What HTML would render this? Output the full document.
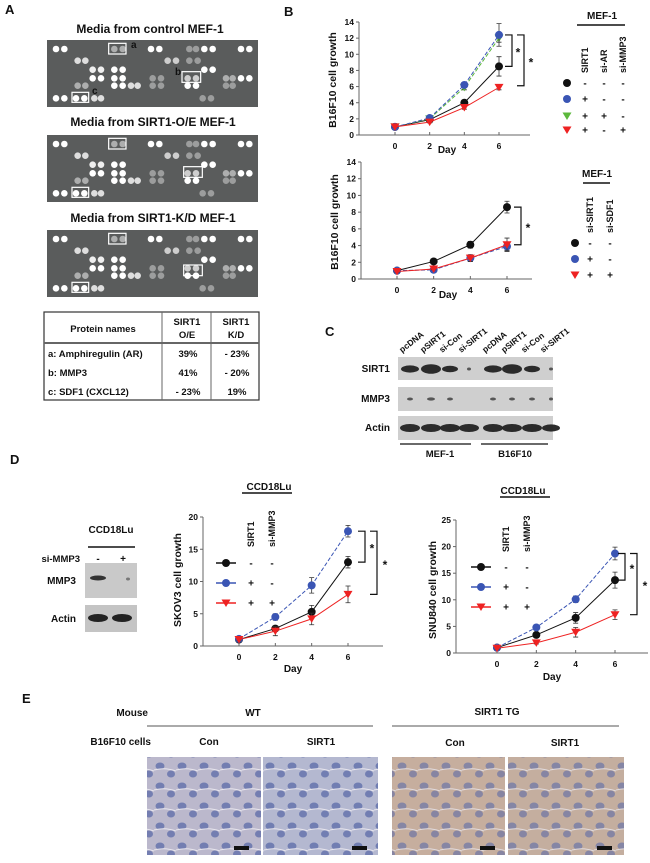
<!DOCTYPE html>
<html><head><meta charset="utf-8"><style>
html,body{margin:0;padding:0;background:#fff}
svg{display:block}
text{font-family:"Liberation Sans",sans-serif;font-weight:bold;fill:#111}
</style></head><body>
<svg id="fig" width="650" height="863" viewBox="0 0 650 863" xmlns="http://www.w3.org/2000/svg">
<defs>
<pattern id="cells" width="22" height="20" patternUnits="userSpaceOnUse">
<ellipse cx="6" cy="6" rx="4.5" ry="3.5" fill="#5a6aa8" opacity="0.75"/>
<ellipse cx="17" cy="14" rx="4" ry="3.5" fill="#5566a5" opacity="0.7"/>
<path d="M0 10 Q11 7 22 11" stroke="#e8e6ee" stroke-width="1" fill="none"/>
</pattern>
</defs>
<!-- Panel A -->
<text x="5" y="14" font-size="13">A</text>
<text x="150" y="33" font-size="12" text-anchor="middle">Media from control MEF-1</text>
<text x="153" y="126" font-size="12" text-anchor="middle">Media from SIRT1-O/E MEF-1</text>
<text x="153" y="222" font-size="12" text-anchor="middle">Media from SIRT1-K/D MEF-1</text>
<g id="blots"></g>
<g>
<rect x="44" y="312" width="215" height="88" fill="#fff" stroke="#333" stroke-width="1.2"/>
<line x1="44" y1="343" x2="259" y2="343" stroke="#666" stroke-width="2"/>
<line x1="162" y1="312" x2="162" y2="400" stroke="#666"/>
<line x1="211" y1="312" x2="211" y2="400" stroke="#666"/>
<text x="103" y="332" font-size="9.5" text-anchor="middle">Protein names</text>
<text x="187" y="325" font-size="9.5" text-anchor="middle">SIRT1</text>
<text x="187" y="338" font-size="9.5" text-anchor="middle">O/E</text>
<text x="236" y="325" font-size="9.5" text-anchor="middle">SIRT1</text>
<text x="236" y="338" font-size="9.5" text-anchor="middle">K/D</text>
<text x="48" y="357" font-size="9.5">a: Amphiregulin (AR)</text>
<text x="48" y="376" font-size="9.5">b: MMP3</text>
<text x="48" y="395" font-size="9.5">c: SDF1 (CXCL12)</text>
<text x="188" y="357" font-size="9.5" text-anchor="middle">39%</text>
<text x="188" y="376" font-size="9.5" text-anchor="middle">41%</text>
<text x="188" y="395" font-size="9.5" text-anchor="middle">- 23%</text>
<text x="237" y="357" font-size="9.5" text-anchor="middle">- 23%</text>
<text x="237" y="376" font-size="9.5" text-anchor="middle">- 20%</text>
<text x="237" y="395" font-size="9.5" text-anchor="middle">19%</text>
</g>
<!-- Panel B -->
<text x="284" y="16" font-size="13">B</text>
<g id="chartB1"></g><g id="chartB2"></g>
<!-- Panel C -->
<text x="325" y="336" font-size="13">C</text>
<g id="blotC"></g>
<!-- Panel D -->
<text x="10" y="464" font-size="13">D</text>
<g>
<text x="111" y="533" font-size="10" text-anchor="middle">CCD18Lu</text>
<line x1="88" y1="547" x2="135" y2="547" stroke="#111" stroke-width="1.5"/>
<text x="80" y="562" font-size="9.5" text-anchor="end">si-MMP3</text>
<text x="98" y="562" font-size="10" text-anchor="middle">-</text>
<text x="123" y="562" font-size="10" text-anchor="middle">+</text>
<text x="76" y="584" font-size="10" text-anchor="end">MMP3</text>
<text x="76" y="622" font-size="10" text-anchor="end">Actin</text>
<rect x="85" y="563" width="52" height="35" fill="#c9c9c9"/>
<ellipse cx="98" cy="578" rx="8" ry="2.5" fill="#333"/>
<ellipse cx="128" cy="579" rx="2" ry="1.5" fill="#777"/>
<rect x="85" y="605" width="52" height="27" fill="#c4c4c4"/>
<ellipse cx="98" cy="618" rx="10" ry="4" fill="#222"/>
<ellipse cx="122" cy="618" rx="10" ry="4" fill="#222"/>
</g>
<g id="chartD1"></g><g id="chartD2"></g>
<!-- Panel E -->
<text x="22" y="703" font-size="13">E</text>
<g>
<text x="148" y="716" font-size="10" text-anchor="end">Mouse</text>
<text x="253" y="716" font-size="10" text-anchor="middle">WT</text>
<text x="497" y="715" font-size="10" text-anchor="middle">SIRT1 TG</text>
<line x1="147" y1="726" x2="373" y2="726" stroke="#555"/>
<line x1="392" y1="726" x2="619" y2="726" stroke="#555"/>
<text x="151" y="745" font-size="10" text-anchor="end">B16F10 cells</text>
<text x="209" y="745" font-size="10" text-anchor="middle">Con</text>
<text x="321" y="745" font-size="10" text-anchor="middle">SIRT1</text>
<text x="455" y="746" font-size="10" text-anchor="middle">Con</text>
<text x="565" y="746" font-size="10" text-anchor="middle">SIRT1</text>
<rect x="147" y="757" width="114" height="98" fill="#bbb8cc"/><rect x="147" y="757" width="114" height="98" fill="url(#cells)"/>
<rect x="263" y="757" width="115" height="98" fill="#b4b8d0"/><rect x="263" y="757" width="115" height="98" fill="url(#cells)"/>
<rect x="392" y="757" width="113" height="98" fill="#c6ae9e"/><rect x="392" y="757" width="113" height="98" fill="url(#cells)" opacity="0.8"/>
<rect x="508" y="757" width="116" height="98" fill="#c4ae9f"/><rect x="508" y="757" width="116" height="98" fill="url(#cells)" opacity="0.8"/>
<rect x="234" y="846" width="15" height="4" fill="#111"/>
<rect x="352" y="846" width="15" height="4" fill="#111"/>
<rect x="480" y="846" width="15" height="4" fill="#111"/>
<rect x="597" y="846" width="15" height="4" fill="#111"/>
</g>
</svg>
<script>
// ---- Chart data ----
const days = [0, 2, 4, 6];
const b1Black = [1, 1.9, 4, 8.5];
const b1Blue = [1, 2.1, 6.2, 12.4];
const b1Green = [1, 2, 5.9, 12];
const b1Red = [1, 1.6, 3.4, 5.9];
const b1BlackErr = [0.1, 0.2, 0.3, 1.2];
const b1BlueErr = [0.1, 0.2, 0.3, 1.4];
const b1GreenErr = [0.1, 0.2, 0.3, 0.5];
const b1RedErr = [0.1, 0.1, 0.2, 0.3];
const b2Black = [1, 2.1, 4.1, 8.6];
const b2Blue = [1, 1.1, 2.5, 3.9];
const b2Red = [0.9, 1.2, 2.5, 4.1];
const b2BlackErr = [0.1, 0.2, 0.4, 0.7];
const b2BlueErr = [0.1, 0.1, 0.4, 0.5];
const b2RedErr = [0.1, 0.1, 0.4, 0.8];
const d1Black = [1, 2.7, 5.3, 13];
const d1Blue = [1.1, 4.5, 9.4, 17.8];
const d1Red = [1, 2.3, 4.2, 8];
const d1BlackErr = [0.2, 0.4, 1, 0.9];
const d1BlueErr = [0.2, 0.5, 1.2, 0.9];
const d1RedErr = [0.2, 0.7, 0.9, 1.3];
const d2Black = [1, 3.4, 6.6, 13.7];
const d2Blue = [1, 4.8, 10.1, 18.7];
const d2Red = [0.9, 1.9, 3.9, 7.2];
const d2BlackErr = [0.2, 0.4, 1, 1.5];
const d2BlueErr = [0.2, 0.3, 0.6, 1.2];
const d2RedErr = [0.2, 0.2, 0.9, 0.9];
const ticks14 = [0, 2, 4, 6, 8, 10, 12, 14];
const ticks20 = [0, 5, 10, 15, 20];
const ticks25 = [0, 5, 10, 15, 20, 25];

const NS = 'http://www.w3.org/2000/svg';
const COL = {black:'#111', blue:'#3a55b4', green:'#5cb83c', red:'#ee2222'};
function mk(tag, parent, attrs){const e=document.createElementNS(NS,tag);for(const k in attrs)e.setAttribute(k,attrs[k]);parent.appendChild(e);return e;}
function txt(parent, x, y, s, size, anchor, rot){const t=mk('text',parent,{x:x,y:y,'font-size':size,'text-anchor':anchor||'start'});if(rot)t.setAttribute('transform','rotate('+rot+' '+x+' '+y+')');t.textContent=s;return t;}
function marker(g, x, y, kind, color){
  let m;
  if(kind==='tri'){m=mk('path',g,{d:'M'+(x-4.5)+' '+(y-3.5)+' L'+(x+4.5)+' '+(y-3.5)+' L'+x+' '+(y+4)+' Z',fill:color});}
  else{m=mk('circle',g,{cx:x,cy:y,r:4,fill:color});}
  return m;
}
function chart(id, cfg){
  const g=document.getElementById(id);
  
  
  const xs=d=>cfg.x0+d*(cfg.x6-cfg.x0)/6;
  const ys=v=>cfg.y0-v*(cfg.y0-cfg.yTop)/cfg.yMax;
  const ax=mk('path',g,{d:'M'+cfg.ax+' '+cfg.yTop+' L'+cfg.ax+' '+cfg.y0+' L'+cfg.xEnd+' '+cfg.y0,stroke:'#666',fill:'none','stroke-width':1});
  
  
  cfg.ticks.forEach(t=>{
    mk('line',g,{x1:cfg.ax-3,y1:ys(t),x2:cfg.ax,y2:ys(t),stroke:'#666'});
    const l=txt(g,cfg.ax-5,ys(t)+3,String(t),8.5,'end');
    
    
  });
  days.forEach(d=>{
    mk('line',g,{x1:xs(d),y1:cfg.y0,x2:xs(d),y2:cfg.y0-3,stroke:'#666'});
    const l=txt(g,xs(d),cfg.y0+14,String(d),8.5,'middle');
    
    
  });
  const dl=txt(g,cfg.dayX,cfg.dayY,'Day',10,'middle');
  
  
  const yl=txt(g,cfg.ytX,cfg.ytY,cfg.ytitle,10.5,'middle',-90);
  
  
  cfg.series.forEach(s=>{
    const sg=mk('g',g,{});
    
    
    const pts=s.vals.map((v,i)=>xs(days[i])+','+ys(v)).join(' ');
    const pl=mk('polyline',sg,{points:pts,fill:'none',stroke:COL[s.color],'stroke-width':1,'stroke-dasharray':s.dash?'4,2':'none'});
    s.vals.forEach((v,i)=>{
      const x=xs(days[i]),e=s.err[i];
      mk('path',sg,{d:'M'+x+' '+ys(v-e)+' L'+x+' '+ys(v+e)+' M'+(x-2.5)+' '+ys(v+e)+' L'+(x+2.5)+' '+ys(v+e)+' M'+(x-2.5)+' '+ys(v-e)+' L'+(x+2.5)+' '+ys(v-e),stroke:'#333','stroke-width':0.8,fill:'none'});
      const m=marker(sg,x,ys(v),s.tri?'tri':'circ',COL[s.color]);
      
      
    });
  });
  cfg.brackets.forEach(b=>{
    const yA=ys(b.a), yB=ys(b.b);
    const br=mk('path',g,{d:'M'+(b.x-7)+' '+yA+' L'+b.x+' '+yA+' L'+b.x+' '+yB+' L'+(b.x-7)+' '+yB,stroke:'#111',fill:'none','stroke-width':1.2});
    
    
    const st=txt(g,b.sx,(yA+yB)/2+6,'*',12,'middle');
    
    
  });
  // legend
  const lg=mk('g',g,{});
  
  
  if(cfg.leg.title){
    txt(lg,cfg.leg.tx,cfg.leg.ty,cfg.leg.title,10,'middle');
    mk('line',lg,{x1:cfg.leg.l1,y1:cfg.leg.ly,x2:cfg.leg.l2,y2:cfg.leg.ly,stroke:'#111','stroke-width':1.5});
  }
  cfg.leg.cols.forEach((c,i)=>{txt(lg,cfg.leg.cx[i]+3,cfg.leg.cy,c,9,'start',-90);});
  cfg.leg.rows.forEach((r,j)=>{
    const y=cfg.leg.ry[j];
    if(cfg.leg.line) mk('line',lg,{x1:cfg.leg.mx-10,y1:y,x2:cfg.leg.mx+10,y2:y,stroke:COL[r.color],'stroke-width':1.5});
    const m=marker(lg,cfg.leg.mx,y,r.tri?'tri':'circ',COL[r.color]);
    
    
    r.signs.forEach((s,i)=>txt(lg,cfg.leg.cx[i],y+3.5,s,10,'middle'));
  });
}
chart('chartB1',{name:'chart-b16f10-mef-top',ax:359,x0:395,x6:499,y0:135,yTop:22,yMax:14,xEnd:530,ticks:ticks14,
  dayX:447,dayY:153,ytX:336,ytY:80,ytitle:'B16F10 cell growth',
  series:[{key:'black',vals:b1Black,err:b1BlackErr,color:'black'},{key:'green',vals:b1Green,err:b1GreenErr,color:'green',dash:1,tri:1},
    {key:'blue',vals:b1Blue,err:b1BlueErr,color:'blue',dash:1},{key:'red',vals:b1Red,err:b1RedErr,color:'red',tri:1}],
  brackets:[{x:512,a:12.4,b:8.5,sx:518},{x:524,a:12.4,b:6.1,sx:531}],
  leg:{title:'MEF-1',tx:602,ty:19,l1:577,l2:625,ly:25,cols:['SIRT1','si-AR','si-MMP3'],cx:[585,604,623],cy:73,mx:567,line:0,ry:[83,99,116,130],
    rows:[{color:'black',signs:['-','-','-']},{color:'blue',signs:['+','-','-']},{color:'green',tri:1,signs:['+','+','-']},{color:'red',tri:1,signs:['+','-','+']}]}});
chart('chartB2',{name:'chart-b16f10-mef-bottom',ax:361,x0:397,x6:507,y0:279,yTop:162,yMax:14,xEnd:532,ticks:ticks14,
  dayX:448,dayY:298,ytX:338,ytY:222,ytitle:'B16F10 cell growth',
  series:[{key:'black',vals:b2Black,err:b2BlackErr,color:'black'},{key:'blue',vals:b2Blue,err:b2BlueErr,color:'blue',dash:1},{key:'red',vals:b2Red,err:b2RedErr,color:'red',tri:1}],
  brackets:[{x:521,a:8.6,b:4.1,sx:528}],
  leg:{title:'MEF-1',tx:597,ty:177,l1:583,l2:610,ly:183,cols:['si-SIRT1','si-SDF1'],cx:[590,610],cy:233,mx:575,line:0,ry:[243,259,275],
    rows:[{color:'black',signs:['-','-']},{color:'blue',signs:['+','-']},{color:'red',tri:1,signs:['+','+']}]}});
chart('chartD1',{name:'chart-skov3-growth',ax:203,x0:239,x6:348,y0:646,yTop:517,yMax:20,xEnd:383,ticks:ticks20,
  dayX:293,dayY:672,ytX:181,ytY:580,ytitle:'SKOV3 cell growth',
  series:[{key:'black',vals:d1Black,err:d1BlackErr,color:'black'},{key:'blue',vals:d1Blue,err:d1BlueErr,color:'blue',dash:1},{key:'red',vals:d1Red,err:d1RedErr,color:'red',tri:1}],
  brackets:[{x:365,a:17.8,b:13,sx:372},{x:377,a:17.8,b:8,sx:385}],
  leg:{title:'CCD18Lu',tx:269,ty:490,l1:242,l2:292,ly:493,cols:['SIRT1','si-MMP3'],cx:[251,272],cy:547,mx:226,line:1,ry:[563,583,603],
    rows:[{color:'black',signs:['-','-']},{color:'blue',signs:['+','-']},{color:'red',tri:1,signs:['+','+']}]}});
chart('chartD2',{name:'chart-snu840-growth',ax:456,x0:497,x6:615,y0:653,yTop:520,yMax:25,xEnd:648,ticks:ticks25,
  dayX:552,dayY:680,ytX:436,ytY:590,ytitle:'SNU840 cell growth',
  series:[{key:'black',vals:d2Black,err:d2BlackErr,color:'black'},{key:'blue',vals:d2Blue,err:d2BlueErr,color:'blue',dash:1},{key:'red',vals:d2Red,err:d2RedErr,color:'red',tri:1}],
  brackets:[{x:625,a:18.7,b:13.7,sx:632},{x:637,a:18.7,b:7.2,sx:645}],
  leg:{title:'CCD18Lu',tx:523,ty:494,l1:500,l2:550,ly:497,cols:['SIRT1','si-MMP3'],cx:[506,527],cy:552,mx:481,line:1,ry:[567,587,607],
    rows:[{color:'black',signs:['-','-']},{color:'blue',signs:['+','-']},{color:'red',tri:1,signs:['+','+']}]}});

// ---- Panel A dot blots (decorative) ----
const dotSpots=[[170,145,1],[195,145,1],[345,145,.5],[370,145,.5],[455,145,1],[480,145,1],[570,145,.4],[590,145,.4],[615,145,1],[640,145,1],[725,145,1],[750,145,1],
[235,180,.8],[258,180,.8],[505,180,.7],[530,180,.7],[570,180,.4],[595,180,.4],
[280,207,.9],[305,207,.9],[345,207,1],[370,207,1],[615,207,1],[640,207,1],
[280,233,1],[305,233,1],[345,233,1],[370,233,1],[460,233,.4],[485,233,.4],[565,233,.7],[590,233,.7],[680,233,.5],[700,233,.5],[725,233,1],[750,233,1],
[235,255,.5],[258,255,.5],[345,255,1],[370,255,1],[395,255,.8],[415,255,.8],[460,255,.4],[485,255,.4],[565,255,1],[590,255,1],[680,255,.4],[700,255,.4],
[170,293,1],[195,293,1],[230,293,1],[255,293,1],[285,293,.8],[305,293,.8],[610,293,.4],[635,293,.4]];
const blotG=document.getElementById('blots');
[40,135,230].forEach((top,bi)=>{
  const g=mk('g',blotG,{});
  
  
  mk('rect',g,{x:47,y:top,width:211,height:67,fill:'#5a5c5c'});
  dotSpots.forEach(d=>{mk('circle',g,{cx:47+(d[0]-143)/3,cy:top+(d[1]-118)/3,r:3.3,fill:'#fff',opacity:d[2]});});
  const bx=[[328,128,52,32],[548+(bi?5:0),213+(bi==2?10:0),56,32],[218,275,50,30]];
  bx.forEach(b=>mk('rect',g,{x:47+(b[0]-143)/3,y:top+(b[1]-118)/3,width:b[2]/3,height:b[3]/3,fill:'none',stroke:'#fff','stroke-width':1.2}));
  if(bi===0){
    txt(g,131,48,'a',10,'start').setAttribute('fill','#fff');
    txt(g,175,75,'b',10,'start').setAttribute('fill','#fff');
    txt(g,92,94,'c',10,'start').setAttribute('fill','#fff');
  }
});
// ---- Panel C western blot (decorative) ----
const cG=document.getElementById('blotC');
const lanes=['pcDNA','pSIRT1','si-Con','si-SIRT1','pcDNA','pSIRT1','si-Con','si-SIRT1'];
const laneX=[408,429,448,467,491,510,530,549];
lanes.forEach((l,i)=>txt(cG,laneX[i]-6,353,l,8.5,'start',-38));
[['SIRT1',357,[9,12,8,2,9,12,8,2]],['MMP3',387,[3,4,3,0,3,3,3,2]],['Actin',416,[10,10,10,10,10,10,10,9]]].forEach(r=>{
  txt(cG,390,r[1]+15,r[0],10,'end');
  mk('rect',cG,{x:398,y:r[1],width:155,height:r[0]==='SIRT1'?23:24,fill:'#cfcfcf'});
  r[2].forEach((w,i)=>{if(w>0)mk('ellipse',cG,{cx:laneX[i]+2,cy:r[1]+12,rx:Math.min(w,10),ry:Math.max(1.5,w/2.5),fill:'#222',opacity:w>5?0.95:0.7});});
});
mk('line',cG,{x1:400,y1:444,x2:471,y2:444,stroke:'#111','stroke-width':1.2});
mk('line',cG,{x1:481,y1:444,x2:548,y2:444,stroke:'#111','stroke-width':1.2});
txt(cG,440,457,'MEF-1',9.5,'middle');
txt(cG,515,457,'B16F10',9.5,'middle');
</script>
</body></html>
